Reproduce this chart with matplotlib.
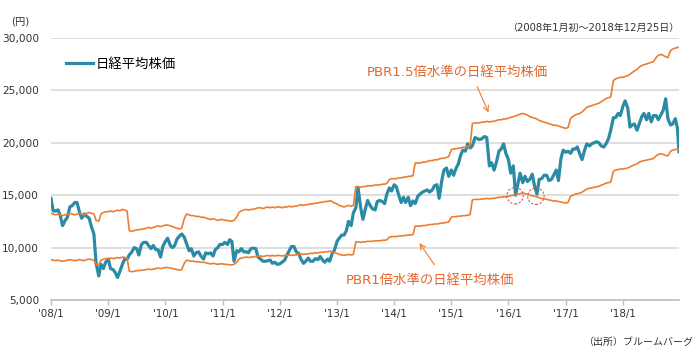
import pandas as pd
import matplotlib
matplotlib.use('Agg')
import matplotlib.pyplot as plt
import matplotlib.dates as mdates
from matplotlib.ticker import FuncFormatter

plt.rcParams['font.family'] = ['DejaVu Sans', 'Noto Sans CJK JP']

# semi-monthly sample dates (1st and 15th of each month) + last day
dates = [pd.Timestamp(y, m, d) for y in range(2008, 2019) for m in range(1, 13) for d in (1, 15)]
dates.append(pd.Timestamp(2018, 12, 25))

# Nikkei 225 (yen)
nikkei = [
    14700, 13500, 13500, 13600, 13000, 12100, 12600, 12900, 13900, 14000, 14300, 14300,
    13400, 12800, 13200, 13000, 12800, 12000, 11300, 8500, 7300, 8400, 8000, 8600,
    8900, 8000, 7900, 7600, 7150, 7700, 8400, 8900, 8900, 9300, 9600, 10000,
    9900, 9300, 10300, 10500, 10500, 10200, 9900, 10200, 9800, 9800, 9100, 10100,
    10600, 10900, 10200, 10000, 10200, 10800, 11100, 11300, 11000, 10400, 9700, 9900,
    9200, 9500, 9600, 9200, 8900, 9500, 9400, 9500, 9200, 9800, 10000, 10300,
    10300, 10500, 10300, 10750, 10600, 8700, 9700, 9600, 9900, 9600, 9600, 9500,
    9900, 9950, 9900, 9100, 8900, 8700, 8700, 8750, 8800, 8500, 8600, 8400,
    8450, 8600, 8800, 9250, 9700, 10100, 10100, 9600, 9450, 8900, 8500, 8700,
    9000, 8700, 8700, 8950, 8850, 9150, 8800, 8600, 8900, 8700, 9450, 9750,
    10600, 10900, 11200, 11200, 11600, 12500, 12100, 13300, 13800, 15700, 13800, 12700,
    13700, 14500, 14000, 13700, 13600, 14400, 14500, 14400, 14200, 15100, 15700, 15400,
    16000, 15800, 14900, 14300, 14800, 14300, 14800, 14000, 14450, 14200, 14900, 15100,
    15300, 15400, 15500, 15300, 15500, 15900, 16000, 14700, 16400, 17400, 17600, 16800,
    17400, 16900, 17600, 18000, 18800, 19300, 19200, 19900, 19500, 19700, 20500, 20400,
    20300, 20400, 20600, 20500, 17800, 18100, 17400, 18100, 19200, 19400, 19900, 19000,
    18400, 17100, 17800, 15000, 16100, 17100, 16200, 16800, 16300, 16500, 17000, 15900,
    15100, 16500, 16600, 16900, 16900, 16400, 16500, 16900, 17400, 16400, 18500, 19300,
    19100, 19200, 19000, 19400, 19400, 19600, 18900, 18400, 19300, 19900, 19700, 19900,
    20000, 20100, 20000, 19700, 19600, 19900, 20400, 21200, 22400, 22400, 22800, 22600,
    23500, 24000, 23300, 21500, 21700, 21800, 21200, 21800, 22500, 22800, 22200, 22800,
    22000, 22600, 22600, 22200, 22700, 23100, 24200, 22300, 21700, 21800, 22300, 21400,
    19150,
]

# Nikkei level at PBR 1.0x
pbr1 = [
    8850, 8800, 8750, 8800, 8750, 8700, 8750, 8800, 8850, 8800, 8750, 8800,
    8850, 8800, 8750, 8850, 8900, 8850, 8800, 8400, 8350, 8800, 8900, 8950,
    8950, 9000, 8950, 9000, 9050, 9000, 9100, 9050, 9000, 7750, 7700, 7750,
    7800, 7800, 7850, 7850, 7900, 7950, 7900, 7950, 8000, 8050, 8000, 8050,
    8100, 8100, 8050, 8000, 7950, 7900, 7850, 7900, 8500, 8800, 8750, 8700,
    8700, 8650, 8650, 8600, 8600, 8550, 8500, 8450, 8500, 8450, 8400, 8450,
    8450, 8400, 8400, 8350, 8350, 8400, 8600, 8900, 9000, 9050, 9100, 9050,
    9100, 9100, 9150, 9200, 9200, 9150, 9200, 9250, 9200, 9250, 9200, 9250,
    9250, 9200, 9250, 9250, 9300, 9250, 9300, 9300, 9350, 9400, 9350, 9400,
    9400, 9450, 9450, 9500, 9500, 9550, 9550, 9600, 9600, 9650, 9600, 9500,
    9450, 9350, 9300, 9250, 9300, 9350, 9300, 9350, 10550, 10550, 10500, 10550,
    10550, 10600, 10600, 10600, 10650, 10650, 10650, 10700, 10700, 10750, 11000, 11050,
    11050, 11050, 11100, 11100, 11150, 11150, 11200, 11200, 11250, 12050, 12050, 12050,
    12100, 12100, 12150, 12200, 12200, 12250, 12250, 12300, 12350, 12350, 12400, 12450,
    12900, 12950, 12950, 13000, 13000, 13050, 13050, 13100, 13150, 14550, 14600, 14600,
    14600, 14650, 14650, 14700, 14650, 14700, 14700, 14750, 14800, 14800, 14850, 14850,
    14900, 14950, 15000, 15050, 15100, 15150, 15200, 15150, 15100, 15000, 14950, 14900,
    14850, 14750, 14700, 14650, 14600, 14550, 14500, 14450, 14450, 14400, 14350, 14300,
    14250, 14300, 14900, 15000, 15100, 15150, 15200, 15300, 15450, 15600, 15650, 15700,
    15750, 15800, 15850, 15950, 16050, 16150, 16200, 16250, 17300, 17400, 17450, 17500,
    17500, 17550, 17600, 17700, 17800, 17900, 18000, 18150, 18250, 18300, 18350, 18400,
    18450, 18500, 18750, 18900, 18950, 18900, 18800, 18750, 19200, 19300, 19350, 19400,
    19400,
]

# Nikkei level at PBR 1.5x
pbr15 = [
    13275, 13200, 13125, 13200, 13125, 13050, 13125, 13200, 13275, 13200, 13125, 13200,
    13275, 13200, 13125, 13275, 13350, 13275, 13200, 12600, 12525, 13200, 13350, 13425,
    13425, 13500, 13425, 13500, 13575, 13500, 13650, 13575, 13500, 11625, 11550, 11625,
    11700, 11700, 11775, 11775, 11850, 11925, 11850, 11925, 12000, 12075, 12000, 12075,
    12150, 12150, 12075, 12000, 11925, 11850, 11775, 11850, 12750, 13200, 13125, 13050,
    13050, 12975, 12975, 12900, 12900, 12825, 12750, 12675, 12750, 12675, 12600, 12675,
    12675, 12600, 12600, 12525, 12525, 12600, 12900, 13350, 13500, 13575, 13650, 13575,
    13650, 13650, 13725, 13800, 13800, 13725, 13800, 13875, 13800, 13875, 13800, 13875,
    13875, 13800, 13875, 13875, 13950, 13875, 13950, 13950, 14025, 14100, 14025, 14100,
    14100, 14175, 14175, 14250, 14250, 14325, 14325, 14400, 14400, 14475, 14400, 14250,
    14175, 14025, 13950, 13875, 13950, 14025, 13950, 14025, 15825, 15825, 15750, 15825,
    15825, 15900, 15900, 15900, 15975, 15975, 15975, 16050, 16050, 16125, 16500, 16575,
    16575, 16575, 16650, 16650, 16725, 16725, 16800, 16800, 16875, 18075, 18075, 18075,
    18150, 18150, 18225, 18300, 18300, 18375, 18375, 18450, 18525, 18525, 18600, 18675,
    19350, 19425, 19425, 19500, 19500, 19575, 19575, 19650, 19725, 21825, 21900, 21900,
    21900, 21975, 21975, 22050, 21975, 22050, 22050, 22125, 22200, 22200, 22275, 22275,
    22350, 22425, 22500, 22575, 22650, 22725, 22800, 22725, 22650, 22500, 22425, 22350,
    22275, 22125, 22050, 21975, 21900, 21825, 21750, 21675, 21675, 21600, 21525, 21450,
    21375, 21450, 22350, 22500, 22650, 22725, 22800, 22950, 23175, 23400, 23475, 23550,
    23625, 23700, 23775, 23925, 24075, 24225, 24300, 24375, 25950, 26100, 26175, 26250,
    26250, 26325, 26400, 26550, 26700, 26850, 27000, 27225, 27375, 27450, 27525, 27600,
    27675, 27750, 28125, 28350, 28425, 28350, 28200, 28125, 28800, 28950, 29025, 29100,
    29100,
]

# dips circled on the chart
circle_dates = [pd.Timestamp(2016, 2, 12), pd.Timestamp(2016, 6, 24)]
circle_vals = [14950, 14900]

yticks = [5000, 10000, 15000, 20000, 25000, 30000]

teal = '#2b8ba5'
orange = '#ed7d31'
txt_orange = '#e2682b'

fig = plt.figure(figsize=(7, 3.55), dpi=100)
ax = fig.add_axes([51 / 700, 55 / 355, 628 / 700, 262 / 355])

line, = ax.plot(dates, nikkei, color=teal, lw=2.3, label='日経平均株価', zorder=3)
ax.plot(dates, pbr15, color=orange, lw=1.2, zorder=4)
ax.plot(dates, pbr1, color=orange, lw=1.2, zorder=4)
ax.scatter(circle_dates, circle_vals, s=140, facecolors='none', edgecolors='#d9534f',
           linewidths=0.8, linestyles=(0, (2, 1.5)), zorder=5)

ax.set_xlim(pd.Timestamp(2008, 1, 1), pd.Timestamp(2018, 12, 25))
ax.set_ylim(5000, 30000)
ax.set_yticks(yticks)
ax.yaxis.set_major_formatter(FuncFormatter(lambda v, p: f'{int(v):,}'))
ax.xaxis.set_major_locator(mdates.YearLocator())
ax.xaxis.set_major_formatter(mdates.DateFormatter("'%y/1"))

ax.yaxis.grid(True, color='#d9d9d9', lw=1.2)
ax.set_axisbelow(True)
for s in ['left', 'top', 'right']:
    ax.spines[s].set_visible(False)
ax.spines['bottom'].set_color('#c0c0c0')
ax.spines['bottom'].set_linewidth(1.2)
ax.tick_params(axis='y', length=0, pad=8.5, labelsize=7.6, labelcolor='#333333')
ax.tick_params(axis='x', direction='out', length=3.6, width=1, color='#c0c0c0',
               pad=3, labelsize=7.4, labelcolor='#333333')

fig.legend(handles=[line], loc='center left', bbox_to_anchor=(66 / 700, 1 - 64 / 355),
           frameon=False, fontsize=9.6, handlelength=2.0, handletextpad=0.25,
           borderpad=0, borderaxespad=0)

fig.text(11 / 700, 1 - 21 / 355, '(円)', fontsize=7.4, va='center', ha='left', color='#333333')
fig.text(679 / 700, 1 - 28 / 355, '（2008年1月初～2018年12月25日）', fontsize=7.2,
         va='center', ha='right', color='#333333')
fig.text(693 / 700, 1 - 342 / 355, '（出所）ブルームバーグ', fontsize=7.2,
         va='center', ha='right', color='#333333')

fig.text(367 / 700, 1 - 72 / 355, 'PBR1.5倍水準の日経平均株価', fontsize=9.6,
         va='center', ha='left', color=txt_orange)
ax.annotate('', xy=(pd.Timestamp(2015, 9, 3), 22650), xytext=(476, 355 - 84),
            textcoords='figure pixels',
            arrowprops=dict(arrowstyle='->', color=orange, lw=0.8))

fig.text(346 / 700, 1 - 280 / 355, 'PBR1倍水準の日経平均株価', fontsize=9.6,
         va='center', ha='left', color=txt_orange)
ax.annotate('', xy=(pd.Timestamp(2014, 6, 1), 10650), xytext=(436, 355 - 267),
            textcoords='figure pixels',
            arrowprops=dict(arrowstyle='->', color=orange, lw=0.8))

fig.savefig('out.png', dpi=100)
